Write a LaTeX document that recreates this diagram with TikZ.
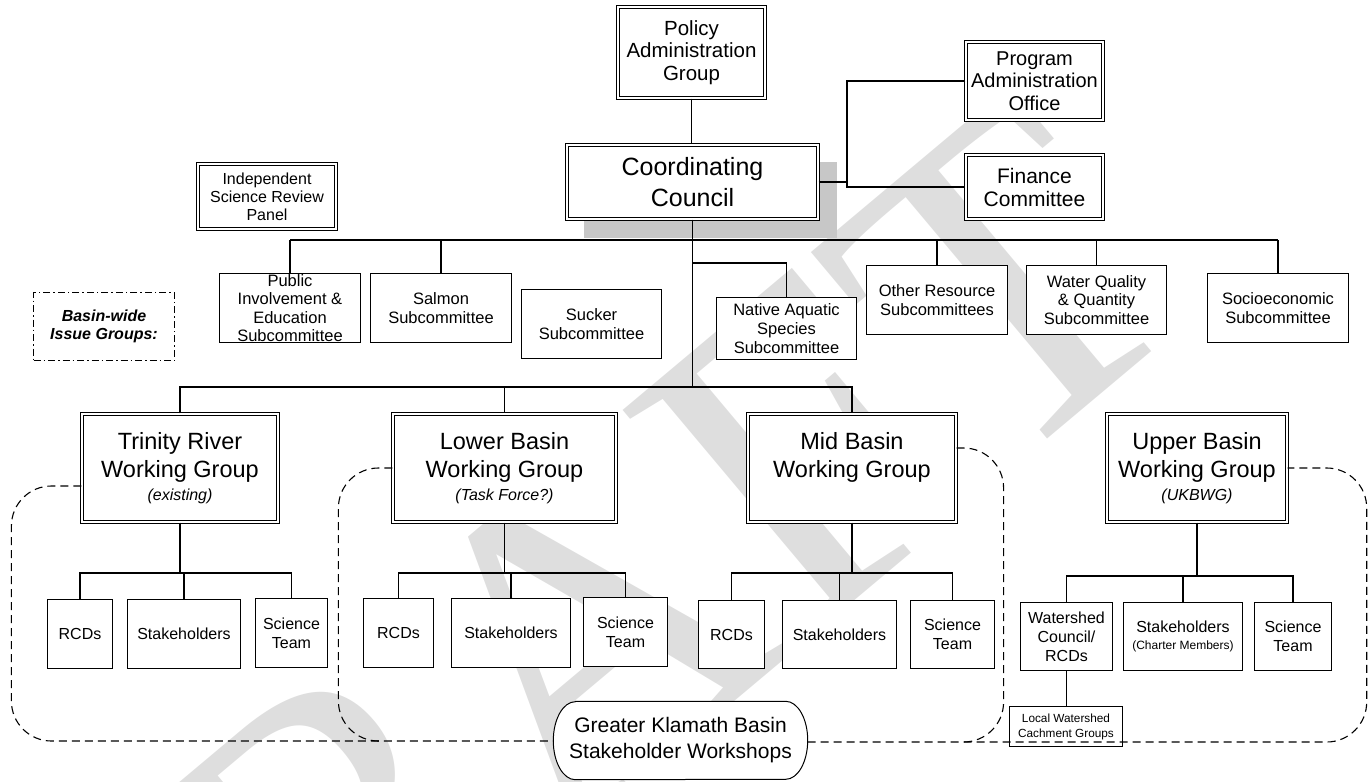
\documentclass[tikz,border=0pt]{standalone}
\usepackage{fontspec}
\setmainfont{Liberation Sans}
\newfontfamily\wmfont{Liberation Serif}
\newcommand{\fs}[2]{\fontsize{#1}{#2}\selectfont}
\pgfdeclarelayer{bg}
\pgfsetlayers{bg,main}
\tikzset{
  dbox/.style={draw, double, double distance=2pt, line width=0.8pt, fill=white,
               align=center, inner sep=0pt},
  sbox/.style={draw, line width=1pt, fill=white, align=center, inner sep=0pt},
  wg/.style={dbox, minimum height=108.4pt, font=\fs{23.5}{28}},
  sub/.style={sbox, minimum height=69pt, font=\fs{16.5}{18.6}},
  kid/.style={sbox, minimum height=69pt, font=\fs{16}{19}},
  link/.style={line width=1.1pt},
  trunk/.style={line width=1.9pt},
  loopline/.style={line width=1.1pt, dash pattern=on 8pt off 5pt, rounded corners=40pt},
  sidenote/.style={draw, line width=1pt, dash pattern=on 7pt off 3pt on 1.5pt off 3pt,
                   align=center, inner sep=0pt},
}
\newcommand{\wgsub}[1]{\\[-5pt]{\fs{16}{19}\itshape #1}}
\begin{document}
\begin{tikzpicture}[x=1pt,y=-1pt]
\useasboundingbox (0,0) rectangle (1369,782);

% ---------- top level ----------
\node[dbox, minimum width=147.4pt, minimum height=91.4pt, font=\fs{20.5}{22.5}] (pag) at (691.5,52.5) {Policy\\Administration\\Group};
\node[dbox, minimum width=251.4pt, minimum height=74.4pt, font=\fs{25}{31}] (cc) at (692.5,182) {Coordinating\\Council};
\node[dbox, minimum width=137.4pt, minimum height=78.4pt, font=\fs{20}{22.5}] (pao) at (1034.5,81) {Program\\Administration\\Office};
\node[dbox, minimum width=137.4pt, minimum height=64.4pt, font=\fs{21}{23}] (fin) at (1034.5,187) {Finance\\Committee};
\node[dbox, minimum width=138.4pt, minimum height=65.4pt, font=\fs{16}{18}] (isrp) at (267,196.5) {Independent\\Science Review\\Panel};

% ---------- subcommittees ----------
\node[sub, minimum width=141pt] (pie) at (290,308) {Public\\Involvement \&\\Education\\Subcommittee};
\node[sub, minimum width=141pt] (salmon) at (441,308) {Salmon\\Subcommittee};
\node[sub, minimum width=140pt] (sucker) at (591.5,324) {Sucker\\Subcommittee};
\node[sub, minimum width=140pt, minimum height=62pt] (native) at (786.5,328.5) {Native Aquatic\\Species\\Subcommittee};
\node[sub, minimum width=141pt] (other) at (937,300) {Other Resource\\Subcommittees};
\node[sub, minimum width=140pt] (waterq) at (1096.5,300) {Water Quality\\\& Quantity\\Subcommittee};
\node[sub, minimum width=141pt] (socio) at (1278,308) {Socioeconomic\\Subcommittee};
\node[sidenote, minimum width=141pt, minimum height=68pt, font=\fs{16}{18}\bfseries\itshape] (basin) at (104,326.5) {Basin-wide\\Issue Groups:};

% ---------- working groups ----------
\node[wg, minimum width=196.4pt] (trinity) at (180,468) {Trinity River\\Working Group\wgsub{(existing)}};
\node[wg, minimum width=223.4pt] (lower) at (504.5,468) {Lower Basin\\Working Group\wgsub{(Task Force?)}};
\node[wg, minimum width=208.4pt] (mid) at (852,468) {Mid Basin\\Working Group\wgsub{\phantom{(existing)}}};
\node[wg, minimum width=180.4pt] (upper) at (1197,468) {Upper Basin\\Working Group\wgsub{(UKBWG)}};

% ---------- working group members ----------
\node[kid, minimum width=65pt] (trcd) at (80,634) {RCDs};
\node[kid, minimum width=113pt] (tstk) at (184,634) {Stakeholders};
\node[kid, minimum width=72pt] (tsci) at (291.5,633) {Science\\Team};

\node[kid, minimum width=70pt] (lrcd) at (398.5,633) {RCDs};
\node[kid, minimum width=119pt] (lstk) at (511,633) {Stakeholders};
\node[kid, minimum width=84pt] (lsci) at (625.5,632) {Science\\Team};

\node[kid, minimum width=66pt, minimum height=68pt] (mrcd) at (731.5,634.5) {RCDs};
\node[kid, minimum width=114pt, minimum height=68pt] (mstk) at (839.5,634.5) {Stakeholders};
\node[kid, minimum width=84pt, minimum height=68pt] (msci) at (952.5,634.5) {Science\\Team};

\node[kid, minimum width=92pt, minimum height=68pt] (uws) at (1066.5,636.5) {Watershed\\Council/\\RCDs};
\node[kid, minimum width=119pt, minimum height=68pt] (ustk) at (1183,636.5) {Stakeholders\\[-2pt]{\fs{12}{14}(Charter Members)}};
\node[kid, minimum width=77pt, minimum height=68pt] (usci) at (1293,636.5) {Science\\Team};
\node[sbox, minimum width=113pt, minimum height=40pt, font=\fs{11.8}{15}] (local) at (1066,726.5) {Local Watershed\\Cachment Groups};

% workshops (outline drawn on the background layer)
\node[minimum width=254pt, minimum height=78pt, inner sep=0pt, align=center, font=\fs{21}{26}] (gkb) at (680.5,740.5) {Greater Klamath Basin\\Stakeholder Workshops};

% ---------- bus coordinates ----------
\coordinate (subbus) at (0,240);
\coordinate (natj) at (0,263);
\coordinate (wgbus) at (0,387);
\coordinate (kidbus) at (0,573);
\coordinate (ukidbus) at (0,576);
\coordinate (junc) at (847,0);

% ---------- connectors ----------
\draw[link] (pag.south) -- (pag.south |- cc.north);
\draw[link] (cc.east) -- (cc.east -| junc);
\draw[link] (pao.west) -- (pao.west -| junc) -- (fin.west -| junc) -- (fin.west);

\draw[trunk] (cc.south) -- (cc.south |- wgbus);
\draw[link] (pie.north |- subbus) -- (socio.north |- subbus);
\foreach \n in {pie,salmon,other,waterq,socio}
  \draw[link] (\n.north |- subbus) -- (\n.north);
\draw[link] (cc.south |- natj) -| (native.north);

\draw[link] (trinity.north) -- (trinity.north |- wgbus) -- (mid.north |- wgbus) -- (mid.north);
\draw[link] (lower.north |- wgbus) -- (lower.north);

\foreach \g/\a/\b/\c/\bus in {trinity/trcd/tstk/tsci/kidbus, lower/lrcd/lstk/lsci/kidbus,
                               mid/mrcd/mstk/msci/kidbus, upper/uws/ustk/usci/ukidbus} {
  \draw[trunk] (\g.south) -- (\g.south |- \bus);
  \draw[link] (\a.north) -- (\a.north |- \bus) -- (\c.north |- \bus) -- (\c.north);
  \draw[link] (\b.north |- \bus) -- (\b.north);
}
\draw[link] (uws.south) -- (uws.south |- local.north);

% ---------- workshop boundaries ----------
\draw[loopline] ([yshift=-18pt]trinity.west) -- ++(-70,0) -- ++(0,255) -- (gkb.west |- 0,741);
\draw[loopline] (lower.west) -- ++(-54,0) -- ++(0,273) -- ++(45,0);
\draw[loopline] ([yshift=20pt]mid.east) -- ++(47,0) -- ++(0,294) -- ++(-44,0);
\draw[loopline] (gkb.east |- 0,742) -- ++(559,0) -- ++(0,-274) -- (upper.east);

% ---------- background: watermark, shadow, workshop outline ----------
\begin{pgfonlayer}{bg}
  \node[rotate=40, anchor=base east, text=black!13, inner sep=0pt, font=\wmfont\fs{450}{450}] (wm) at (1205,307) {DRAFT};
  \fill[black!22] ([xshift=18pt,yshift=-18pt]cc.south west) rectangle ([xshift=18pt,yshift=-18pt]cc.north east);
  \draw[line width=1pt, fill=white]
    ([xshift=22pt]gkb.north west) -- ([xshift=-22pt]gkb.north east)
    arc[start angle=90, end angle=-90, x radius=22pt, y radius=39pt]
    -- ([xshift=22pt]gkb.south west)
    arc[start angle=270, end angle=90, x radius=22pt, y radius=39pt] -- cycle;
\end{pgfonlayer}
\end{tikzpicture}
\end{document}
